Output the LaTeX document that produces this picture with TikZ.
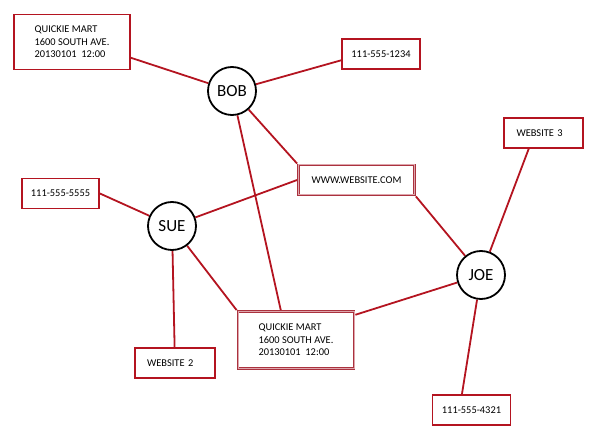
\documentclass[tikz,border=0pt]{standalone}
\usepackage{fontspec}
\setmainfont{Carlito}
\usepackage{xcolor}
\usepackage{tikz}
\usetikzlibrary{positioning,backgrounds}
\definecolor{linkred}{RGB}{180,20,32}
\definecolor{sharedred}{RGB}{170,50,62}
\definecolor{sharedpink}{RGB}{222,165,172}
\tikzset{
  % --- people ----------------------------------------------------------------
  person/.style={circle,draw=black,line width=1.8pt,fill=white,
                 minimum size=48pt,inner sep=0pt,
                 font=\fontsize{17}{19}\selectfont},
  % --- attribute boxes -------------------------------------------------------
  infobox/.style={rectangle,draw=linkred,line width=1.8pt,fill=white,
                  inner sep=0pt,minimum height=30pt,
                  font=\fontsize{10.4}{12.4}\selectfont,align=left},
  % shared attribute: dark outer line, pale inner line
  sharedbox/.style={infobox,draw=sharedred,line width=2.8pt,
                    postaction={draw=sharedpink,line width=1pt}},
  padleft/.style={text width=#1,align=left},
  % --- links -----------------------------------------------------------------
  link/.style={linkred,line width=1.8pt},
}
\begin{document}
\begin{tikzpicture}[x=1pt, y=-1pt]
  \useasboundingbox (0,0) rectangle (600,446);

  \node[person] (bob) at (232,91)  {BOB};
  \node[person] (sue) at (172,226) {SUE};
  \node[person] (joe) at (481,275) {JOE};

  \node[infobox,minimum width=116pt,minimum height=55pt] (qm1) at (72,42)
    {QUICKIE MART\\1600 SOUTH AVE.\\20130101~~12:00};
  \node[infobox,minimum width=78pt] (p1234) at (381,54) {111-555-1234};
  \node[sharedbox,minimum width=116pt] (www) at (356.5,180) {WWW.WEBSITE.COM};
  \node[infobox,minimum width=79pt,padleft=54pt] (w3) at (543.5,133) {WEBSITE 3};
  \node[infobox,minimum width=77pt] (p5555) at (60.5,193.5) {111-555-5555};
  \node[sharedbox,minimum width=116pt,minimum height=57pt] (qm2) at (296,340)
    {QUICKIE MART\\1600 SOUTH AVE.\\20130101~~12:00};
  \node[infobox,minimum width=80pt,padleft=55pt] (w2) at (174.6,363) {WEBSITE 2};
  \node[infobox,minimum width=78pt] (p4321) at (471.5,410) {111-555-4321};

  % links sit under the nodes
  \begin{scope}[on background layer]
    \draw[link] (qm1.-15)        -- (bob);
    \draw[link] (p1234.-171)     -- (bob);
    \draw[link] (www.north west) -- (bob);
    \draw[link] (qm2.117)        -- (bob);
    \draw[link] (p5555.east)     -- (sue);
    \draw[link] (www.west)       -- (sue);
    \draw[link] (qm2.north west) -- (sue);
    \draw[link] (w2.north)       -- (sue);
    \draw[link] (www.south east) -- (joe);
    \draw[link] (w3.-133)        -- (joe);
    \draw[link] (qm2.23)         -- (joe);
    \draw[link] (p4321.121)      -- (joe);
  \end{scope}
\end{tikzpicture}
\end{document}
